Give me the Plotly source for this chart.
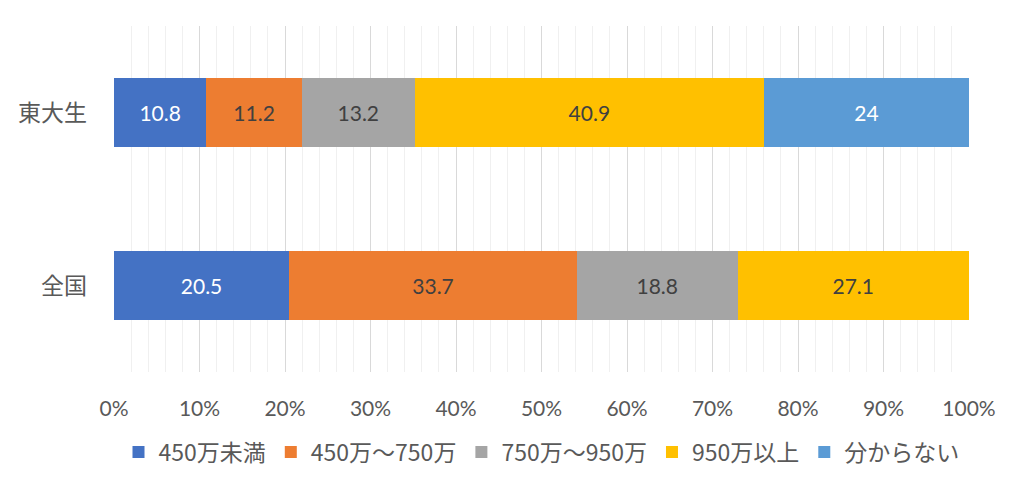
import plotly.graph_objects as go

categories = ["東大生", "全国"]
series_names = ["450万未満", "450万～750万", "750万～950万", "950万以上", "分からない"]
values_todai = [10.8, 11.2, 13.2, 40.9, 24]
values_zenkoku = [20.5, 33.7, 18.8, 27.1, None]
colors = ["#4472C4", "#ED7D31", "#A5A5A5", "#FFC000", "#5B9BD5"]
label_colors = ["#FFFFFF", "#404040", "#404040", "#404040", "#FFFFFF"]
tick_vals = [0, 10, 20, 30, 40, 50, 60, 70, 80, 90, 100]
tick_text = [f"{v}%" for v in tick_vals]

FONT = "Lato, 'Noto Sans CJK JP', sans-serif"

fig = go.Figure()
for i, name in enumerate(series_names):
    vals = [values_todai[i], values_zenkoku[i]]
    xs = [v if v is not None else 0 for v in vals]
    txt = ["" if v is None else (f"{v:g}") for v in vals]
    fig.add_trace(go.Bar(
        y=categories, x=xs, name=name, orientation="h",
        marker=dict(color=colors[i], line=dict(width=0)),
        text=txt, textposition="inside", insidetextanchor="middle",
        textangle=0, constraintext="none",
        textfont=dict(color=label_colors[i], size=21, family=FONT),
        hoverinfo="skip",
    ))

# page body has an 8px default margin, so the figure is sized to fit the window
fig.update_layout(
    barmode="stack", barnorm="percent", bargap=0.6,
    width=1016, height=485,
    margin=dict(l=106, r=55, t=18, b=121, autoexpand=False),
    plot_bgcolor="white", paper_bgcolor="white",
    font=dict(family=FONT, color="#595959", size=20),
    showlegend=True,
    legend=dict(orientation="h", x=0.5, xanchor="center", y=-0.231, yanchor="middle",
                font=dict(size=23, color="#595959", family="'Noto Sans CJK JP', sans-serif"),
                traceorder="normal", itemwidth=30, tracegroupgap=0),
    xaxis=dict(range=[0, 100], tickvals=tick_vals, ticktext=tick_text,
               showgrid=True, gridcolor="#D9D9D9", gridwidth=1,
               minor=dict(dtick=2, showgrid=True, gridcolor="#F0F0F0", gridwidth=1),
               zeroline=False, showline=False, ticks="", automargin=False,
               ticklabelstandoff=22, tickfont=dict(size=21, color="#595959")),
    yaxis=dict(categoryorder="array", categoryarray=categories, autorange="reversed",
               showgrid=False, zeroline=False, showline=False, ticks="", automargin=False,
               ticklabelstandoff=26, tickfont=dict(size=23, color="#595959",
                                                  family="'Noto Sans CJK JP', sans-serif")),
)

fig.write_html("out.html")
